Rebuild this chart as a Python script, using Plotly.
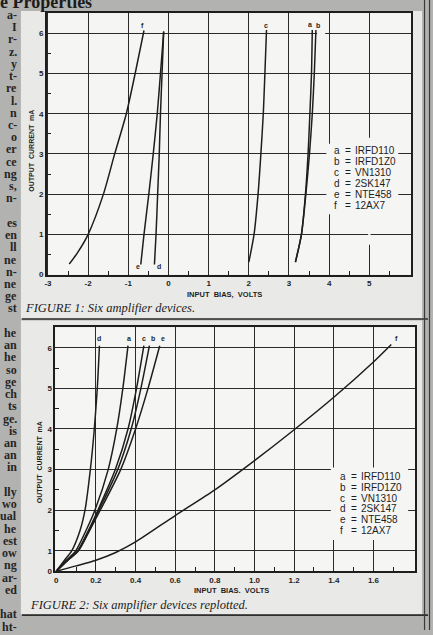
import plotly.graph_objects as go

W, H = 433, 635

# ---------------- data ----------------
# Figure 1: output current (mA) against input bias (V)
f1_f_x = [-2.47, -2.26, -2.0, -1.62, -1.34, -1.05, -0.83, -0.61]
f1_f_y = [0.26, 0.55, 1.0, 2.0, 3.0, 4.0, 5.0, 6.07]
f1_e_x = [-0.69, -0.61, -0.49, -0.38, -0.28, -0.20, -0.12]
f1_e_y = [0.25, 1.0, 2.0, 3.0, 4.0, 5.0, 6.03]
f1_d_x = [-0.35, -0.31, -0.27, -0.23, -0.20, -0.16, -0.12]
f1_d_y = [0.25, 1.0, 2.0, 3.0, 4.0, 5.0, 6.05]
f1_c_x = [2.0, 2.13, 2.23, 2.30, 2.36, 2.40, 2.44]
f1_c_y = [0.31, 1.0, 2.0, 3.0, 4.0, 5.0, 6.08]
f1_a_x = [3.16, 3.31, 3.41, 3.475, 3.52, 3.56, 3.58]
f1_a_y = [0.31, 1.0, 2.0, 3.0, 4.0, 5.0, 6.08]
f1_b_x = [3.16, 3.31, 3.42, 3.51, 3.58, 3.63, 3.67]
f1_b_y = [0.31, 1.0, 2.0, 3.0, 4.0, 5.0, 6.08]

# Figure 2: replotted (y read against the printed grid, bottom edge = "0")
f2_y = [0.5, 0.76, 1.0, 1.5, 2.0, 3.0, 4.0, 5.0, 6.05]
f2_d_x = [0, 0.04, 0.078, 0.12, 0.145, 0.172, 0.192, 0.207, 0.218]
f2_a_x = [0, 0.05, 0.098, 0.15, 0.195, 0.262, 0.305, 0.336, 0.362]
f2_c_x = [0, 0.055, 0.108, 0.162, 0.21, 0.298, 0.362, 0.405, 0.442]
f2_b_x = [0, 0.055, 0.11, 0.165, 0.215, 0.31, 0.378, 0.427, 0.47]
f2_e_x = [0, 0.056, 0.112, 0.168, 0.222, 0.325, 0.40, 0.463, 0.522]
f2_f_x = [0, 0.1, 0.2, 0.3, 0.4, 0.6, 0.8, 1.0, 1.2, 1.4, 1.6, 1.69]
f2_f_y = [0.5, 0.63, 0.77, 0.96, 1.22, 1.87, 2.5, 3.22, 3.98, 4.78, 5.65, 6.08]

letters = ["a", "b", "c", "d", "e", "f"]
devices = ["IRFD110", "IRFD1Z0", "VN1310", "2SK147", "NTE458", "12AX7"]

f1_xticks = [-3, -2, -1, 0, 1, 2, 3, 4, 5]
f1_yticks = [0, 1, 2, 3, 4, 5, 6]
f2_xticks = [0, 0.2, 0.4, 0.6, 0.8, 1.0, 1.2, 1.4, 1.6]
f2_xlabels = ["0", "0.2", "0.4", "0.6", "0.8", "1.0", "1.2", "1.4", "1.6"]
f2_yticks = [0.5, 1, 2, 3, 4, 5, 6]
f2_ylabels = ["0", "1", "2", "3", "4", "5", "6"]

# cut-off words of the neighbouring text column
column_words = [
    "a-", "I", "r-", "z.", "y", "t-", "re", "l.", "n", "c-", "o", "er", "ce",
    "ng", "s,", "n-", "", "es", "en", "ll", "ne", "n-", "ne", "ge", "st", "",
    "he", "an", "he", "so", "ge", "ch", "ts", "ge.", "is", "an", "an", "in", "",
    "lly", "wo", "ual", "he", "est", "ow", "ng", "ar-", "ed", "", "hat", "ht-",
]


def px(x):
    return x / W


def py(y):
    return 1 - y / H


INK = "#1e1e1e"
PLOT_BG = "#f5f5f3"

fig = go.Figure()


def curve(x, y, xa, ya):
    fig.add_trace(go.Scatter(
        x=x, y=y, xaxis=xa, yaxis=ya, mode="lines",
        line=dict(color=INK, width=1.5, shape="spline", smoothing=0.7),
        hoverinfo="skip", showlegend=False,
    ))


for cx, cy in [(f1_f_x, f1_f_y), (f1_e_x, f1_e_y), (f1_d_x, f1_d_y),
               (f1_c_x, f1_c_y), (f1_a_x, f1_a_y), (f1_b_x, f1_b_y)]:
    curve(cx, cy, "x", "y")

for cx in [f2_d_x, f2_a_x, f2_c_x, f2_b_x, f2_e_x]:
    curve(cx, f2_y, "x2", "y2")
curve(f2_f_x, f2_f_y, "x2", "y2")

tickfont = dict(family="Liberation Sans", size=8, color=INK, weight="bold")


def axis(domain, rng, tickvals, ticktext, minor_vals, anchor):
    return dict(
        domain=domain, range=rng, anchor=anchor,
        tickmode="array", tickvals=tickvals, ticktext=ticktext,
        ticks="", tickfont=tickfont,
        showgrid=True, gridcolor="#2a2a2a", gridwidth=1.3,
        showline=True, mirror=True, linecolor=INK, linewidth=1.6,
        zeroline=False, fixedrange=True,
        minor=dict(tickmode="array", tickvals=minor_vals, ticks="inside",
                   ticklen=4, tickwidth=1.2, tickcolor=INK, showgrid=False),
    )


f1_xdom = [px(45), px(411)]
f1_ydom = [py(276.7), py(13.3)]
f2_xdom = [px(53.5), px(415)]
f2_ydom = [py(575.7), py(330)]

fig.update_layout(
    width=W, height=H,
    margin=dict(l=0, r=0, t=0, b=0),
    paper_bgcolor="#b2b2b0",
    plot_bgcolor="rgba(0,0,0,0)",
    xaxis=axis(f1_xdom, [-3.03, 6.04], f1_xticks, [str(v) for v in f1_xticks],
               [v + 0.5 for v in f1_xticks], "y"),
    yaxis=axis(f1_ydom, [0, 6.5], f1_yticks, [str(v) for v in f1_yticks],
               [v + 0.5 for v in f1_yticks[:-1]], "x"),
    xaxis2=axis(f2_xdom, [-0.005, 1.81], f2_xticks, f2_xlabels,
                [round(v + 0.1, 1) for v in f2_xticks], "y2"),
    yaxis2=axis(f2_ydom, [0.5, 6.5], f2_yticks, f2_ylabels,
                [v + 0.5 for v in f2_yticks[1:-1]], "x2"),
)

shapes = []
# white figure panels and plot areas
for y0, y1 in [(11, 321), (323, 619)]:
    shapes.append(dict(type="rect", xref="paper", yref="paper", layer="below",
                       x0=px(19), x1=px(422), y0=py(y1), y1=py(y0),
                       fillcolor="#e9e9e7", line_width=0))
for xd, yd in [(f1_xdom, f1_ydom), (f2_xdom, f2_ydom)]:
    shapes.append(dict(type="rect", xref="paper", yref="paper", layer="below",
                       x0=xd[0], x1=xd[1], y0=yd[0], y1=yd[1],
                       fillcolor=PLOT_BG, line_width=0))
# page rules
for yy in [321.5, 620]:
    shapes.append(dict(type="line", xref="paper", yref="paper",
                       x0=px(20), x1=px(428), y0=py(yy), y1=py(yy),
                       line=dict(color="#2e2e2e", width=1.6)))
for xx in [424.5, 429.5]:
    shapes.append(dict(type="line", xref="paper", yref="paper",
                       x0=px(xx), x1=px(xx), y0=0, y1=1,
                       line=dict(color="#3a3a3a", width=1.2)))
# pasted-on legend boxes hide the grid beneath them
for xr, yr, x0, x1, y0, y1 in [
    ("x", "y", 3.93, 5.72, 1.5, 3.25),
    ("x", "y", 4.97, 5.03, 0.74, 3.4),
    ("x", "y", 3.7, 3.9, 5.93, 6.07),
    ("x2", "y2", 1.385, 1.775, 1.27, 3.05),
]:
    shapes.append(dict(type="rect", xref=xr, yref=yr, x0=x0, x1=x1, y0=y0, y1=y1,
                       fillcolor=PLOT_BG, line_width=0, layer="above"))
fig.update_layout(shapes=shapes)

ann = []


def text(x, y, s, size, family="Liberation Sans", xanchor="center", angle=0,
         color=INK, weight="normal", style="normal", xref="paper", yref="paper"):
    ann.append(dict(x=x, y=y, xref=xref, yref=yref, text=s, showarrow=False,
                    xanchor=xanchor, yanchor="middle", textangle=angle,
                    font=dict(family=family, size=size, color=color,
                              weight=weight, style=style)))


# curve letters
for s, x, y in [("f", -0.64, 6.2), ("c", 2.42, 6.2), ("a", 3.52, 6.22),
                ("b", 3.72, 6.2), ("e", -0.77, 0.2), ("d", -0.23, 0.2)]:
    text(x, y, s, 7, weight="bold", xref="x", yref="y")
for s, x in [("d", 0.218), ("a", 0.369), ("c", 0.444), ("b", 0.49),
             ("e", 0.538), ("f", 1.714)]:
    text(x, 6.23, s, 7, weight="bold", xref="x2", yref="y2")

# legends
for lx, ly in [(332, 151.7), (338, 480)]:
    for i, (l, d) in enumerate(zip(letters, devices)):
        yy = py(ly + i * 11)
        text(px(lx), yy, l, 10, xanchor="left")
        text(px(lx + 10.5), yy, "=", 10, xanchor="left")
        text(px(lx + 21), yy, d, 10, xanchor="left")

# axis titles
text(px(224), py(297), "INPUT  BIAS,  VOLTS", 7.5, weight="bold")
text(px(30), py(152), "OUTPUT  CURRENT  mA", 7, weight="bold", angle=-90)
text(px(231), py(595), "INPUT  BIAS.  VOLTS", 7.5, weight="bold")
text(px(38), py(466), "OUTPUT  CURRENT  mA", 7, weight="bold", angle=-90)

# captions
text(px(21), py(310), "FIGURE 1: Six amplifier devices.", 12.5,
     family="Liberation Serif", xanchor="left", style="italic", color="#1c1c1c")
text(px(26), py(610), "FIGURE 2: Six amplifier devices replotted.", 12.5,
     family="Liberation Serif", xanchor="left", style="italic", color="#1c1c1c")

# page title, cut by the top edge
text(px(-4), py(2), "e Properties", 18, family="Liberation Serif",
     xanchor="left", weight="bold", color="#1c1c1c")

# neighbouring column
for i, w in enumerate(column_words):
    if w:
        ann.append(dict(x=px(17), y=py(15 + i * 12.33), xref="paper", yref="paper",
                        text=w, showarrow=False, xanchor="right", yanchor="middle",
                        font=dict(family="Liberation Serif", size=12,
                                  color="#262626", weight="bold")))

fig.update_layout(annotations=ann)
fig.write_html(
    "out.html",
    config={"displayModeBar": False},
    post_script="document.body.style.margin='0';document.body.style.overflow='hidden';",
)
